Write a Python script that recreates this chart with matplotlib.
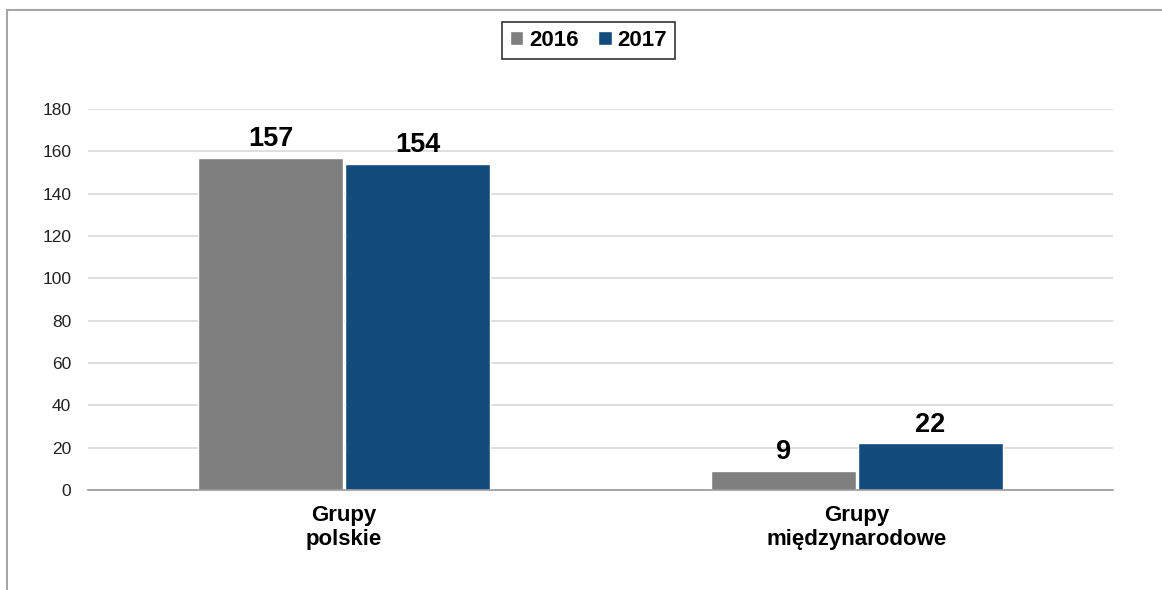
import numpy as np
import matplotlib
matplotlib.use("Agg")
from matplotlib import pyplot as plt
from matplotlib.lines import Line2D

# data
categories = ["Grupy\npolskie", "Grupy\nmiędzynarodowe"]
years = ["2016", "2017"]
values_2016 = [157, 9]
values_2017 = [154, 22]
colors = ["#7F7F7F", "#134B7D"]

plt.rcParams['font.family'] = ['Liberation Sans', 'DejaVu Sans']

fig = plt.figure(figsize=(11.62, 5.90), dpi=100)
ax = fig.add_axes([0.0757, 0.1695, 0.882, 0.6458])

x = np.arange(len(categories))
width = 0.283
bars1 = ax.bar(x - width / 2 - 0.002, values_2016, width, color=colors[0],
               edgecolor="white", linewidth=1, label=years[0], zorder=3)
bars2 = ax.bar(x + width / 2 + 0.002, values_2017, width, color=colors[1],
               edgecolor="white", linewidth=1, label=years[1], zorder=3)

for bars in (bars1, bars2):
    for b in bars:
        ax.annotate("{}".format(int(b.get_height())),
                    (b.get_x() + b.get_width() / 2, b.get_height()),
                    xytext=(0, 4), textcoords="offset points",
                    ha="center", va="bottom", fontsize=19.5, fontweight="bold")

ax.set_xlim(-0.5, 1.5)
ax.set_ylim(0, 180)
ax.set_yticks(np.arange(0, 181, 20))
ax.set_xticks(x)
ax.set_xticklabels(categories, fontsize=16, fontweight="bold", linespacing=1.15)
ax.tick_params(axis="y", length=0, pad=12, labelsize=12.5, labelcolor="#222222")
ax.tick_params(axis="x", length=0, pad=11)
ax.grid(axis="y", color="#D9D9D9", linewidth=1.2, zorder=0)
for s in ["top", "right", "left"]:
    ax.spines[s].set_visible(False)
ax.spines["bottom"].set_color("#9A9A9A")
ax.spines["bottom"].set_linewidth(1.2)
ax.spines["bottom"].set_zorder(4)

# outer frame lines (left and top)
fig.add_artist(Line2D([0.006, 0.006], [0, 0.983], color="#A6A6A6", linewidth=1.5,
                      transform=fig.transFigure))
fig.add_artist(Line2D([0.006, 1.0], [0.983, 0.983], color="#A6A6A6", linewidth=1.5,
                      transform=fig.transFigure))

leg = fig.legend(handles=[bars1, bars2], labels=years, loc="center",
                 bbox_to_anchor=(0.5065, 0.931), ncol=2, fancybox=False,
                 prop={"weight": "bold", "size": 16}, handlelength=0.6,
                 handleheight=0.6, handletextpad=0.25, columnspacing=0.9,
                 borderpad=0.35, borderaxespad=0)
leg.get_frame().set_edgecolor("black")
leg.get_frame().set_linewidth(1.2)

fig.savefig("out.png", dpi=100)
